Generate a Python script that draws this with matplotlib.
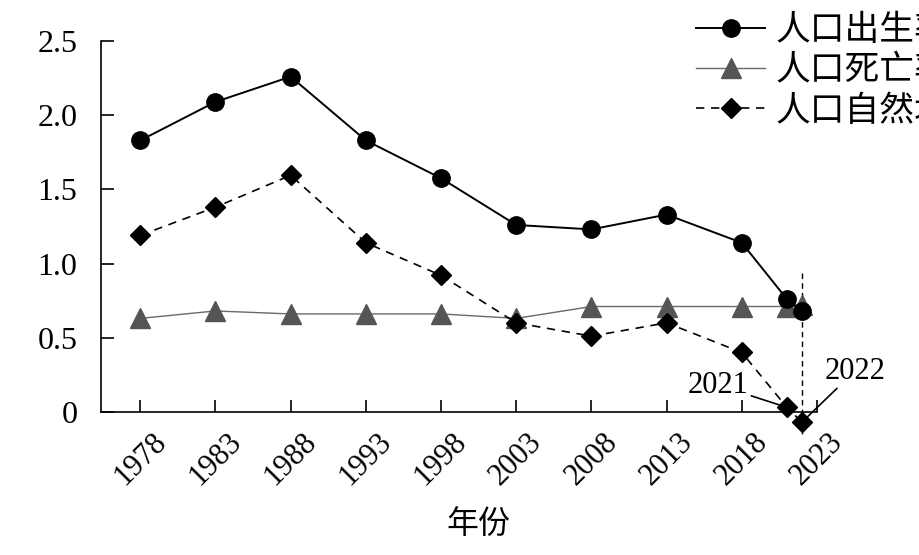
import matplotlib
matplotlib.use("Agg")
import matplotlib.pyplot as plt

years = [1978, 1983, 1988, 1993, 1998, 2003, 2008, 2013, 2018, 2021, 2022]
birth = [1.83, 2.09, 2.26, 1.83, 1.575, 1.26, 1.23, 1.33, 1.14, 0.76, 0.68]
death = [0.63, 0.68, 0.66, 0.66, 0.66, 0.63, 0.71, 0.71, 0.71, 0.71, 0.72]
natural = [1.19, 1.38, 1.595, 1.14, 0.92, 0.60, 0.51, 0.60, 0.40, 0.03, -0.07]
xticks = [1978, 1983, 1988, 1993, 1998, 2003, 2008, 2013, 2018, 2023]
yticks = [0, 0.5, 1.0, 1.5, 2.0, 2.5]
ytick_labels = ["0", "0.5", "1.0", "1.5", "2.0", "2.5"]
labels = ["人口出生率", "人口死亡率", "人口自然增长率"]

serif = ["Liberation Serif", "DejaVu Serif"]
cjk = ["Noto Sans CJK SC", "DejaVu Sans"]

fig = plt.figure(figsize=(9.2, 5.55), dpi=100)
ax = fig.add_axes([0.110, 0.258, 0.778, 0.668])

l1, = ax.plot(years, birth, color="black", lw=1.4, marker="o", ms=12.5, clip_on=False, zorder=4)
l2, = ax.plot(years, death, color="#6a6a6a", lw=1.0, marker="^", ms=15,
              markerfacecolor="#555555", markeredgecolor="#555555", clip_on=False, zorder=3)
l3, = ax.plot(years, natural, color="black", lw=1.2, ls=(0, (5, 4)), marker="D", ms=10,
              clip_on=False, zorder=5)

ax.set_xlim(1975.4, 2023)
ax.set_ylim(0, 2.5)
ax.spines["top"].set_visible(False)
ax.spines["right"].set_visible(False)
for s in ("left", "bottom"):
    ax.spines[s].set_linewidth(1.2)

ax.set_xticks(xticks)
ax.set_xticklabels([str(x) for x in xticks], rotation=45, ha="center", va="top",
                   family=serif, fontsize=22)
ax.set_yticks(yticks)
ax.set_yticklabels(ytick_labels, family=serif, fontsize=23)
ax.tick_params(axis="both", direction="in", length=9, width=1.2)
ax.tick_params(axis="x", pad=11)
ax.tick_params(axis="y", pad=17)

ax.set_xlabel("年份", family=cjk, fontsize=23)
ax.xaxis.set_label_coords(0.527, -0.305)
ax.xaxis.label.set_va("center")

# vertical dashed marker at 2022
ax.plot([2022, 2022], [0.935, -0.15], color="black", lw=1.0, ls=(0, (4, 3)), clip_on=False, zorder=2)

ax.annotate("2021", xy=(years[9], natural[9]), xytext=(2014.4, 0.18),
            family=serif, fontsize=22, ha="left", va="center",
            arrowprops=dict(arrowstyle="-", color="black", lw=1.2, shrinkA=0, shrinkB=4),
            annotation_clip=False)
ax.annotate("2022", xy=(years[10], natural[10]), xytext=(2023.5, 0.275),
            family=serif, fontsize=22, ha="left", va="center",
            arrowprops=dict(arrowstyle="-", color="black", lw=1.2, shrinkA=0, shrinkB=4),
            annotation_clip=False)

leg = fig.legend([l1, l2, l3], labels, loc="upper left", bbox_to_anchor=(0.730, 1.020),
                 frameon=False, prop={"family": cjk, "size": 25}, handlelength=2.0,
                 handletextpad=0.3, labelspacing=0.15, borderpad=0.2)

fig.savefig("out.png", dpi=100)
